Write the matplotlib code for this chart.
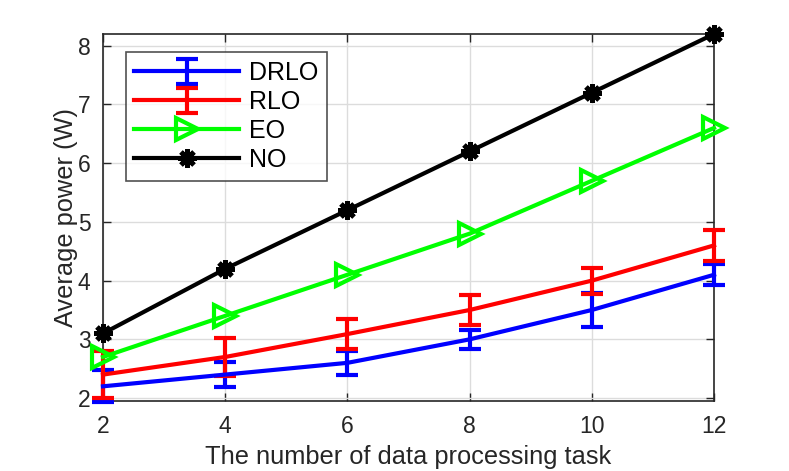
import matplotlib
matplotlib.use("Agg")
import matplotlib.pyplot as plt

tasks = [2, 4, 6, 8, 10, 12]
drlo = [2.2, 2.4, 2.6, 3.0, 3.5, 4.1]
drlo_err = [0.27, 0.21, 0.2, 0.16, 0.29, 0.18]
rlo = [2.4, 2.7, 3.09, 3.5, 4.0, 4.6]
rlo_err = [0.4, 0.33, 0.25, 0.25, 0.22, 0.27]
eo = [2.7, 3.4, 4.1, 4.8, 5.7, 6.6]
no = [3.1, 4.2, 5.2, 6.2, 7.2, 8.2]
labels = ["DRLO", "RLO", "EO", "NO"]

plt.rcParams['font.family'] = ['Liberation Sans', 'DejaVu Sans']
TXT = '#262626'

fig = plt.figure(figsize=(7.89, 4.71), dpi=100)
ax = fig.add_axes([0.1305, 0.1486, 0.7745, 0.7792])

lw = 3
h1 = ax.errorbar(tasks, drlo, yerr=drlo_err, color='#0000ff', lw=lw, capsize=8,
                 capthick=lw, elinewidth=lw, label=labels[0], clip_on=False, zorder=3)
h2 = ax.errorbar(tasks, rlo, yerr=rlo_err, color='#ff0000', lw=lw, capsize=8,
                 capthick=lw, elinewidth=lw, label=labels[1], clip_on=False, zorder=3)
h3, = ax.plot(tasks, eo, color='#00ff00', lw=lw, marker='>', ms=16, mfc='none',
              mew=3, label=labels[2], clip_on=False, zorder=4)
h4, = ax.plot(tasks, no, color='black', lw=lw, marker=(8, 2, 0), ms=13,
              mew=3.5, label=labels[3], clip_on=False, zorder=5)

ax.set_xlim(2, 12)
ax.set_ylim(1.95, 8.2)
ax.set_xticks([2, 4, 6, 8, 10, 12])
ax.set_yticks([2, 3, 4, 5, 6, 7, 8])
ax.grid(True, color='#dcdcdc', lw=1)
ax.set_axisbelow(True)
ax.tick_params(direction='in', top=True, right=True, length=6, width=1,
               colors=TXT, labelsize=16.5)
ax.tick_params(axis='x', pad=10)
ax.tick_params(axis='y', pad=9)
for s in ax.spines.values():
    s.set_color(TXT)
    s.set_linewidth(1.2)
ax.set_xlabel("The number of data processing task", fontsize=18.3, color=TXT, labelpad=5)
ax.set_ylabel("Average power (W)", fontsize=18.3, color=TXT, labelpad=0)

leg = ax.legend([h1, h2, h3, h4], labels, loc='upper left',
                bbox_to_anchor=(0.037, 0.95), fontsize=18,
                frameon=True, fancybox=False, edgecolor=TXT, handlelength=4.2,
                borderpad=0.35, labelspacing=0.2, handletextpad=0.4,
                borderaxespad=0)
leg.get_frame().set_linewidth(1.2)
for t in leg.get_texts():
    t.set_color('black')

fig.savefig("out.png", dpi=100)
